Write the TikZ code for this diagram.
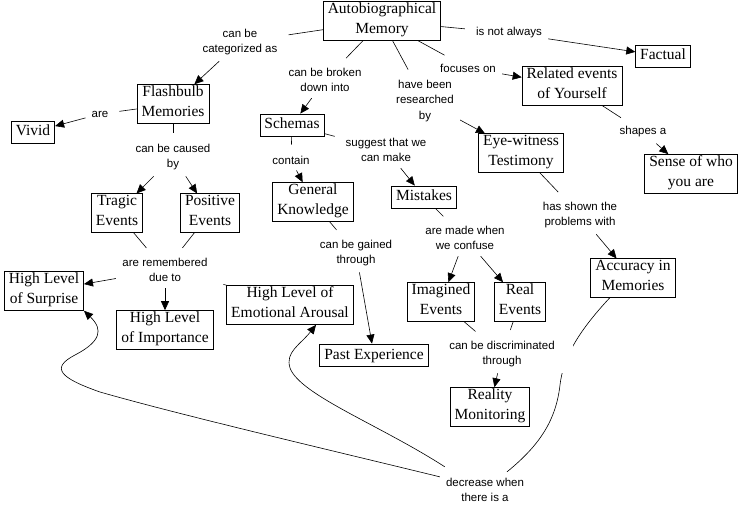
\documentclass[tikz,border=0pt]{standalone}
\usepackage{fontspec}
\setmainfont{Liberation Serif}
\setsansfont{Liberation Sans}
\usetikzlibrary{arrows.meta,backgrounds}
\tikzset{
   concept/.style = {%
    shape=rectangle,
    draw=black,
    line width=0.8pt,
    fill=white,
    align=center,
    inner xsep=4.5pt, inner ysep=1pt,
    execute at begin node=\strut,
    execute at end node=\strut,
    font=\fontsize{15.5}{20}\selectfont},
 linkword/.style = {%
    align=center,
    fill=white,
    inner sep=6pt,
    font=\sffamily\fontsize{11.5}{15.5}\selectfont},
 link/.style = {%
    draw=black,
    line width=0.6pt,
    shorten >=5pt},
 arrow/.style = {%
    draw=black,
    line width=0.6pt,
    -{Triangle[length=9pt,width=8pt]}},
    }

\begin{document}
\begin{tikzpicture}[x=1pt,y=-1pt]
    \useasboundingbox (0,0) rectangle (741,510);
    % concepts
    \node[concept] (am) at (382,21) {Autobiographical\\Memory};
    \node[concept] (factual) at (663,56) {Factual};
    \node[concept] (related) at (572,86) {Related events\\of Yourself};
    \node[concept] (sense) at (691,174) {Sense of who\\you are};
    \node[concept] (eyewit) at (521,153) {Eye-witness\\Testimony};
    \node[concept] (flash) at (173,104) {Flashbulb\\Memories};
    \node[concept] (vivid) at (33,132) {Vivid};
    \node[concept] (schemas) at (292,125) {Schemas};
    \node[concept] (general) at (313,202) {General\\Knowledge};
    \node[concept] (mistakes) at (424,197) {Mistakes};
    \node[concept] (tragic) at (117,213) {Tragic\\Events};
    \node[concept] (positive) at (210,213) {Positive\\Events};
    \node[concept] (surprise) at (44,291) {High Level\\of Surprise};
    \node[concept] (importance) at (165,330) {High Level\\of Importance};
    \node[concept] (emotion) at (290,305) {High Level of\\Emotional Arousal};
    \node[concept] (past) at (374,355) {Past Experience};
    \node[concept] (imagined) at (441,302) {Imagined\\Events};
    \node[concept] (real) at (520,302) {Real\\Events};
    \node[concept] (accuracy) at (633,278) {Accuracy in\\Memories};
    \node[concept] (reality) at (490,407) {Reality\\Monitoring};
    % linking words
    \node[linkword] (catas) at (240,42) {can be\\categorized as};
    \node[linkword] (broken) at (325,80) {can be broken\\down into};
    \node[linkword] (research) at (425,101) {have been\\researched\\by};
    \node[linkword] (notalways) at (509,33) {is not always};
    \node[linkword] (focus) at (468,68) {focuses on};
    \node[linkword] (are) at (100,114) {are};
    \node[linkword] (caused) at (173,157) {can be caused\\by};
    \node[linkword] (contain) at (291,160) {contain};
    \node[linkword] (suggest) at (386,150) {suggest that we\\can make};
    \node[linkword] (shapes) at (643,132) {shapes a};
    \node[linkword] (shown) at (580,215) {has shown the\\problems with};
    \node[linkword] (confuse) at (465,238) {are made when\\we confuse};
    \node[linkword] (gained) at (356,253) {can be gained\\through};
    \node[linkword] (remember) at (165,270) {are remembered\\due to};
    \node[linkword, inner xsep=18pt] (discrim) at (502,354) {can be discriminated\\through};
    \node[linkword] (decrease) at (485,490) {decrease when\\there is a};
    % connections
    \begin{scope}[on background layer]
        \draw[link] (am) -- (catas);
        \draw[arrow] (catas) -- (flash);
        \draw[link] (am) -- (notalways);
        \draw[arrow] (notalways) -- (factual);
        \draw[link] (am) -- (broken);
        \draw[arrow] (broken) -- (schemas);
        \draw[link] (am) -- (research);
        \draw[arrow] (research) -- (eyewit);
        \draw[link] (am) -- (focus);
        \draw[arrow] (focus) -- (related);
        \draw[link] (flash) -- (are);
        \draw[arrow] (are) -- (vivid);
        \draw[link] (flash) -- (caused);
        \draw[arrow] (caused) -- (tragic);
        \draw[arrow] (caused) -- (positive);
        \draw[link] (schemas) -- (contain);
        \draw[arrow] (contain) -- (general);
        \draw[link] (schemas) -- (suggest);
        \draw[arrow] (suggest) -- (mistakes);
        \draw[link] (related) -- (shapes);
        \draw[arrow] (shapes) -- (sense);
        \draw[link] (eyewit) -- (shown);
        \draw[arrow] (shown) -- (accuracy);
        \draw[link] (mistakes) -- (confuse);
        \draw[arrow] (confuse) -- (imagined);
        \draw[arrow] (confuse) -- (real);
        \draw[link] (general) -- (gained);
        \draw[arrow] (gained) -- (past);
        \draw[link] (tragic) -- (remember);
        \draw[link] (positive) -- (remember);
        \draw[arrow] (remember) -- (surprise);
        \draw[arrow] (remember) -- (importance);
        \draw[link, shorten <=10pt, shorten >=0pt] (remember) -- (emotion.north west);
        \draw[link] (imagined) -- (discrim);
        \draw[link] (real) -- (discrim);
        \draw[arrow] (discrim) -- (reality);
        % curved ones
        \draw[link, shorten >=0pt] ([xshift=-23pt]accuracy.south)
            .. controls (575,335) and (563,360) .. (560,385)
            .. controls (556,420) and (540,445) .. ([xshift=22pt]decrease.north);
        \draw[arrow] ([yshift=-5pt]decrease.north west)
            .. controls (330,450) and (180,415) .. (100,392)
            .. controls (60,378) and (50,368) .. (75,355)
            .. controls (100,342) and (104,330) .. (surprise.south east);
        \draw[arrow] ([xshift=5pt,yshift=5pt]decrease.north west)
            .. controls (380,425) and (300,395) .. (290,368)
            .. controls (285,352) and (300,345) .. ([xshift=26pt]emotion.south);
    \end{scope}
\end{tikzpicture}
\end{document}
